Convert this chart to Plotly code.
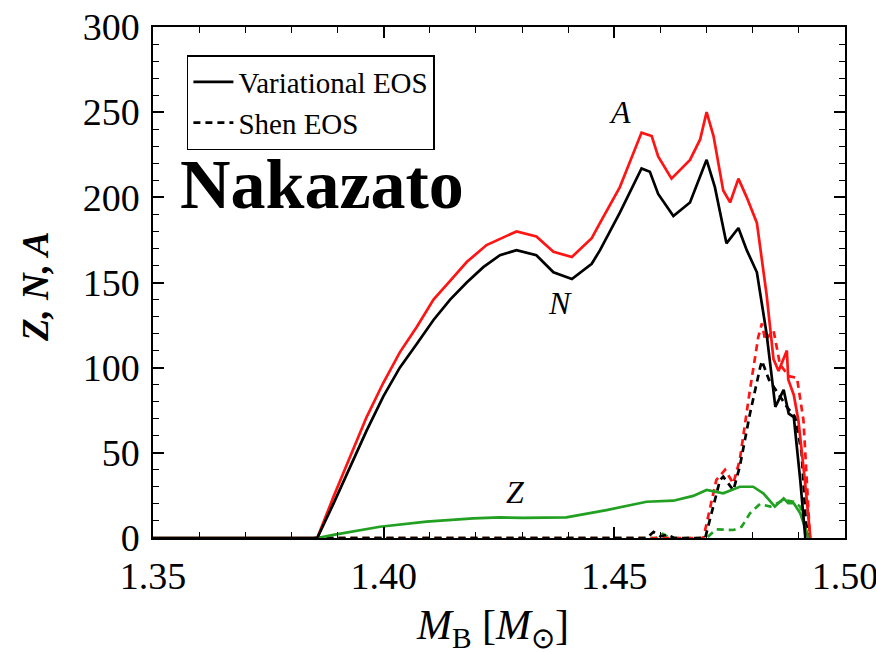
import plotly.graph_objects as go

# Baryon mass of the proto-neutron star [M_sun]
# Variational EOS: mass number A, neutron number N, proton number Z
mb_var = [1.350, 1.3856, 1.3891, 1.3927, 1.3963, 1.3999, 1.4035, 1.4072, 1.4108, 1.4144,
          1.4180, 1.4223, 1.4288, 1.4331, 1.4368, 1.4408, 1.4451, 1.4469, 1.4512, 1.4559,
          1.4581, 1.4595, 1.4624, 1.4664, 1.4686, 1.4700, 1.4715, 1.4736, 1.4751, 1.4769,
          1.4787, 1.4809, 1.4830, 1.4845, 1.4856, 1.4874, 1.4877, 1.4889, 1.4899, 1.4913,
          1.4925]
a_var = [0, 0, 24, 48, 71, 91, 109, 124, 140, 151,
         162, 172, 180, 177, 168, 165, 176, 185, 206, 238,
         236, 224, 211, 222, 234, 250, 236, 204, 197, 211,
         200, 185, 143, 105, 98, 110, 93, 84, 69, 34,
         0]

mb_n_var = [1.350, 1.3856, 1.3891, 1.3927, 1.3963, 1.3999, 1.4035, 1.4072, 1.4108, 1.4144,
            1.4180, 1.4216, 1.4252, 1.4288, 1.4331, 1.4368, 1.4408, 1.4451, 1.4469, 1.4512,
            1.4559, 1.4577, 1.4595, 1.4628, 1.4664, 1.4700, 1.4718, 1.4743, 1.4769, 1.4787,
            1.4809, 1.4830, 1.4849, 1.4867, 1.4878, 1.4889, 1.4896, 1.4903, 1.4914]
n_var = [0, 0, 20, 42, 63, 83, 100, 114, 128, 140,
         150, 159, 166, 169, 166, 156, 152, 161, 169, 191,
         217, 215, 202, 189, 197, 222, 206, 173, 182, 169,
         156, 120, 77, 87, 73, 71, 54, 34, 0]

mb_z_var = [1.350, 1.3856, 1.3891, 1.3992, 1.4093, 1.4194, 1.4252, 1.4302, 1.4396, 1.4483,
            1.4570, 1.4628, 1.4671, 1.4700, 1.4736, 1.4772, 1.4801, 1.4823, 1.4848, 1.4867,
            1.4877, 1.4889, 1.4903, 1.4917, 1.4921]
z_var = [0, 0, 1.8, 6.6, 9.6, 11.5, 12.1, 11.8, 12.1, 16.4,
         21.3, 21.9, 24.7, 28.2, 26.2, 30.1, 30.1, 26.2, 18.4, 23.3,
         20.4, 20.4, 14.5, 2.8, 0]

# Shen EOS
mb_a_shen = [1.385, 1.4693, 1.4721, 1.4740, 1.4758, 1.4772, 1.4794, 1.4812, 1.4820, 1.4827,
             1.4845, 1.4859, 1.4878, 1.4896, 1.4910, 1.4917, 1.4924]
a_shen = [0, 0, 34, 40, 32, 46, 87, 118, 126, 116,
          122, 102, 95, 94, 69, 34, 0]

mb_n_shen = [1.385, 1.457, 1.4585, 1.4600, 1.4615, 1.463, 1.4697, 1.4729, 1.4736, 1.4758,
             1.4772, 1.4794, 1.4816, 1.4820, 1.4835, 1.4874, 1.4892, 1.4906, 1.4915, 1.4921]
n_shen = [0, 0, 3.5, 1, 2, 0, 0, 34, 36, 28,
          42, 73, 100, 104, 93, 77, 71, 50, 10, 0]

mb_z_shen = [1.385, 1.459, 1.4605, 1.462, 1.4700, 1.4721, 1.4758, 1.4776, 1.4794, 1.4816,
             1.4838, 1.4867, 1.4889, 1.4903, 1.4915, 1.4921]
z_shen = [0, 0, 2.5, 0, 0, 5.1, 4.7, 6.6, 14.5, 20,
          18.4, 22.3, 21.3, 18.4, 5, 0]

x_ticks = [1.35, 1.40, 1.45, 1.50]
x_tick_text = ["1.35", "1.40", "1.45", "1.50"]
y_ticks = [0, 50, 100, 150, 200, 250, 300]

RED = "#ff1414"
GREEN = "#22a022"
BLACK = "#000000"
SERIF = "Liberation Serif"
DASH = "7px,5px"
LW = 2.7

fig = go.Figure()

# dashed (Shen) curves underneath
fig.add_trace(go.Scatter(x=mb_z_shen, y=z_shen, mode="lines", showlegend=False,
                         line=dict(color=GREEN, width=LW, dash=DASH)))
fig.add_trace(go.Scatter(x=mb_a_shen, y=a_shen, mode="lines", showlegend=False,
                         line=dict(color=RED, width=LW, dash=DASH)))
fig.add_trace(go.Scatter(x=mb_n_shen, y=n_shen, mode="lines", name="Shen EOS",
                         legendrank=2,
                         line=dict(color=BLACK, width=LW, dash=DASH)))

# solid (variational) curves
fig.add_trace(go.Scatter(x=mb_z_var, y=z_var, mode="lines", showlegend=False,
                         line=dict(color=GREEN, width=LW)))
fig.add_trace(go.Scatter(x=mb_var, y=a_var, mode="lines", showlegend=False,
                         line=dict(color=RED, width=LW)))
fig.add_trace(go.Scatter(x=mb_n_var, y=n_var, mode="lines", name="Variational EOS",
                         legendrank=1,
                         line=dict(color=BLACK, width=LW)))

axis_common = dict(
    showline=True, linecolor=BLACK, linewidth=1.5, mirror="allticks",
    ticks="inside", tickcolor=BLACK, tickwidth=1.5, ticklen=11,
    showgrid=False, zeroline=False, ticklabeloverflow="allow", automargin=False,
    tickfont=dict(family=SERIF, size=38, color=BLACK),
)

fig.update_xaxes(range=[1.35, 1.5000001], tickvals=x_ticks, ticktext=x_tick_text,
                 minor=dict(dtick=0.01, ticks="inside", ticklen=6, tickwidth=1.2,
                            tickcolor=BLACK, showgrid=False),
                 ticklabelstandoff=4, **axis_common)
fig.update_yaxes(range=[0, 300.0001], tickvals=y_ticks,
                 minor=dict(dtick=10, ticks="inside", ticklen=6, tickwidth=1.2,
                            tickcolor=BLACK, showgrid=False),
                 ticklabelstandoff=4, **axis_common)

annotations = [
    dict(text="<b>Nakazato</b>", x=0.244, y=0.691, xref="paper", yref="paper",
         xanchor="center", yanchor="middle", showarrow=False,
         font=dict(family=SERIF, size=70, color=BLACK)),
    dict(text="<i>A</i>", x=1.4512, y=250, showarrow=False,
         font=dict(family=SERIF, size=32, color=BLACK)),
    dict(text="<i>N</i>", x=1.4382, y=138, showarrow=False,
         font=dict(family=SERIF, size=32, color=BLACK)),
    dict(text="<i>Z</i>", x=1.4285, y=27, showarrow=False,
         font=dict(family=SERIF, size=32, color=BLACK)),
    dict(text="<b><i>Z, N, A</i></b>", x=-0.1705, y=0.491, xref="paper", yref="paper",
         xanchor="center", yanchor="middle", textangle=-90, showarrow=False,
         font=dict(family=SERIF, size=37, color=BLACK)),
    dict(text="<i>M</i><sub>B</sub> [<i>M</i><sub>\u2299</sub>]", x=0.49, y=-0.176,
         xref="paper", yref="paper", xanchor="center", yanchor="middle", showarrow=False,
         font=dict(family=SERIF, size=42, color=BLACK)),
]

fig.update_layout(
    width=876, height=652,
    margin=dict(l=153, r=31, t=27, b=114, autoexpand=False),
    paper_bgcolor="white", plot_bgcolor="white",
    annotations=annotations,
    legend=dict(x=0.049, y=0.945, xanchor="left", yanchor="top",
                bordercolor=BLACK, borderwidth=1.5, bgcolor="white",
                font=dict(family=SERIF, size=29, color=BLACK),
                traceorder="normal", itemwidth=40,
                tracegroupgap=0),
)

fig.write_html("out.html")
